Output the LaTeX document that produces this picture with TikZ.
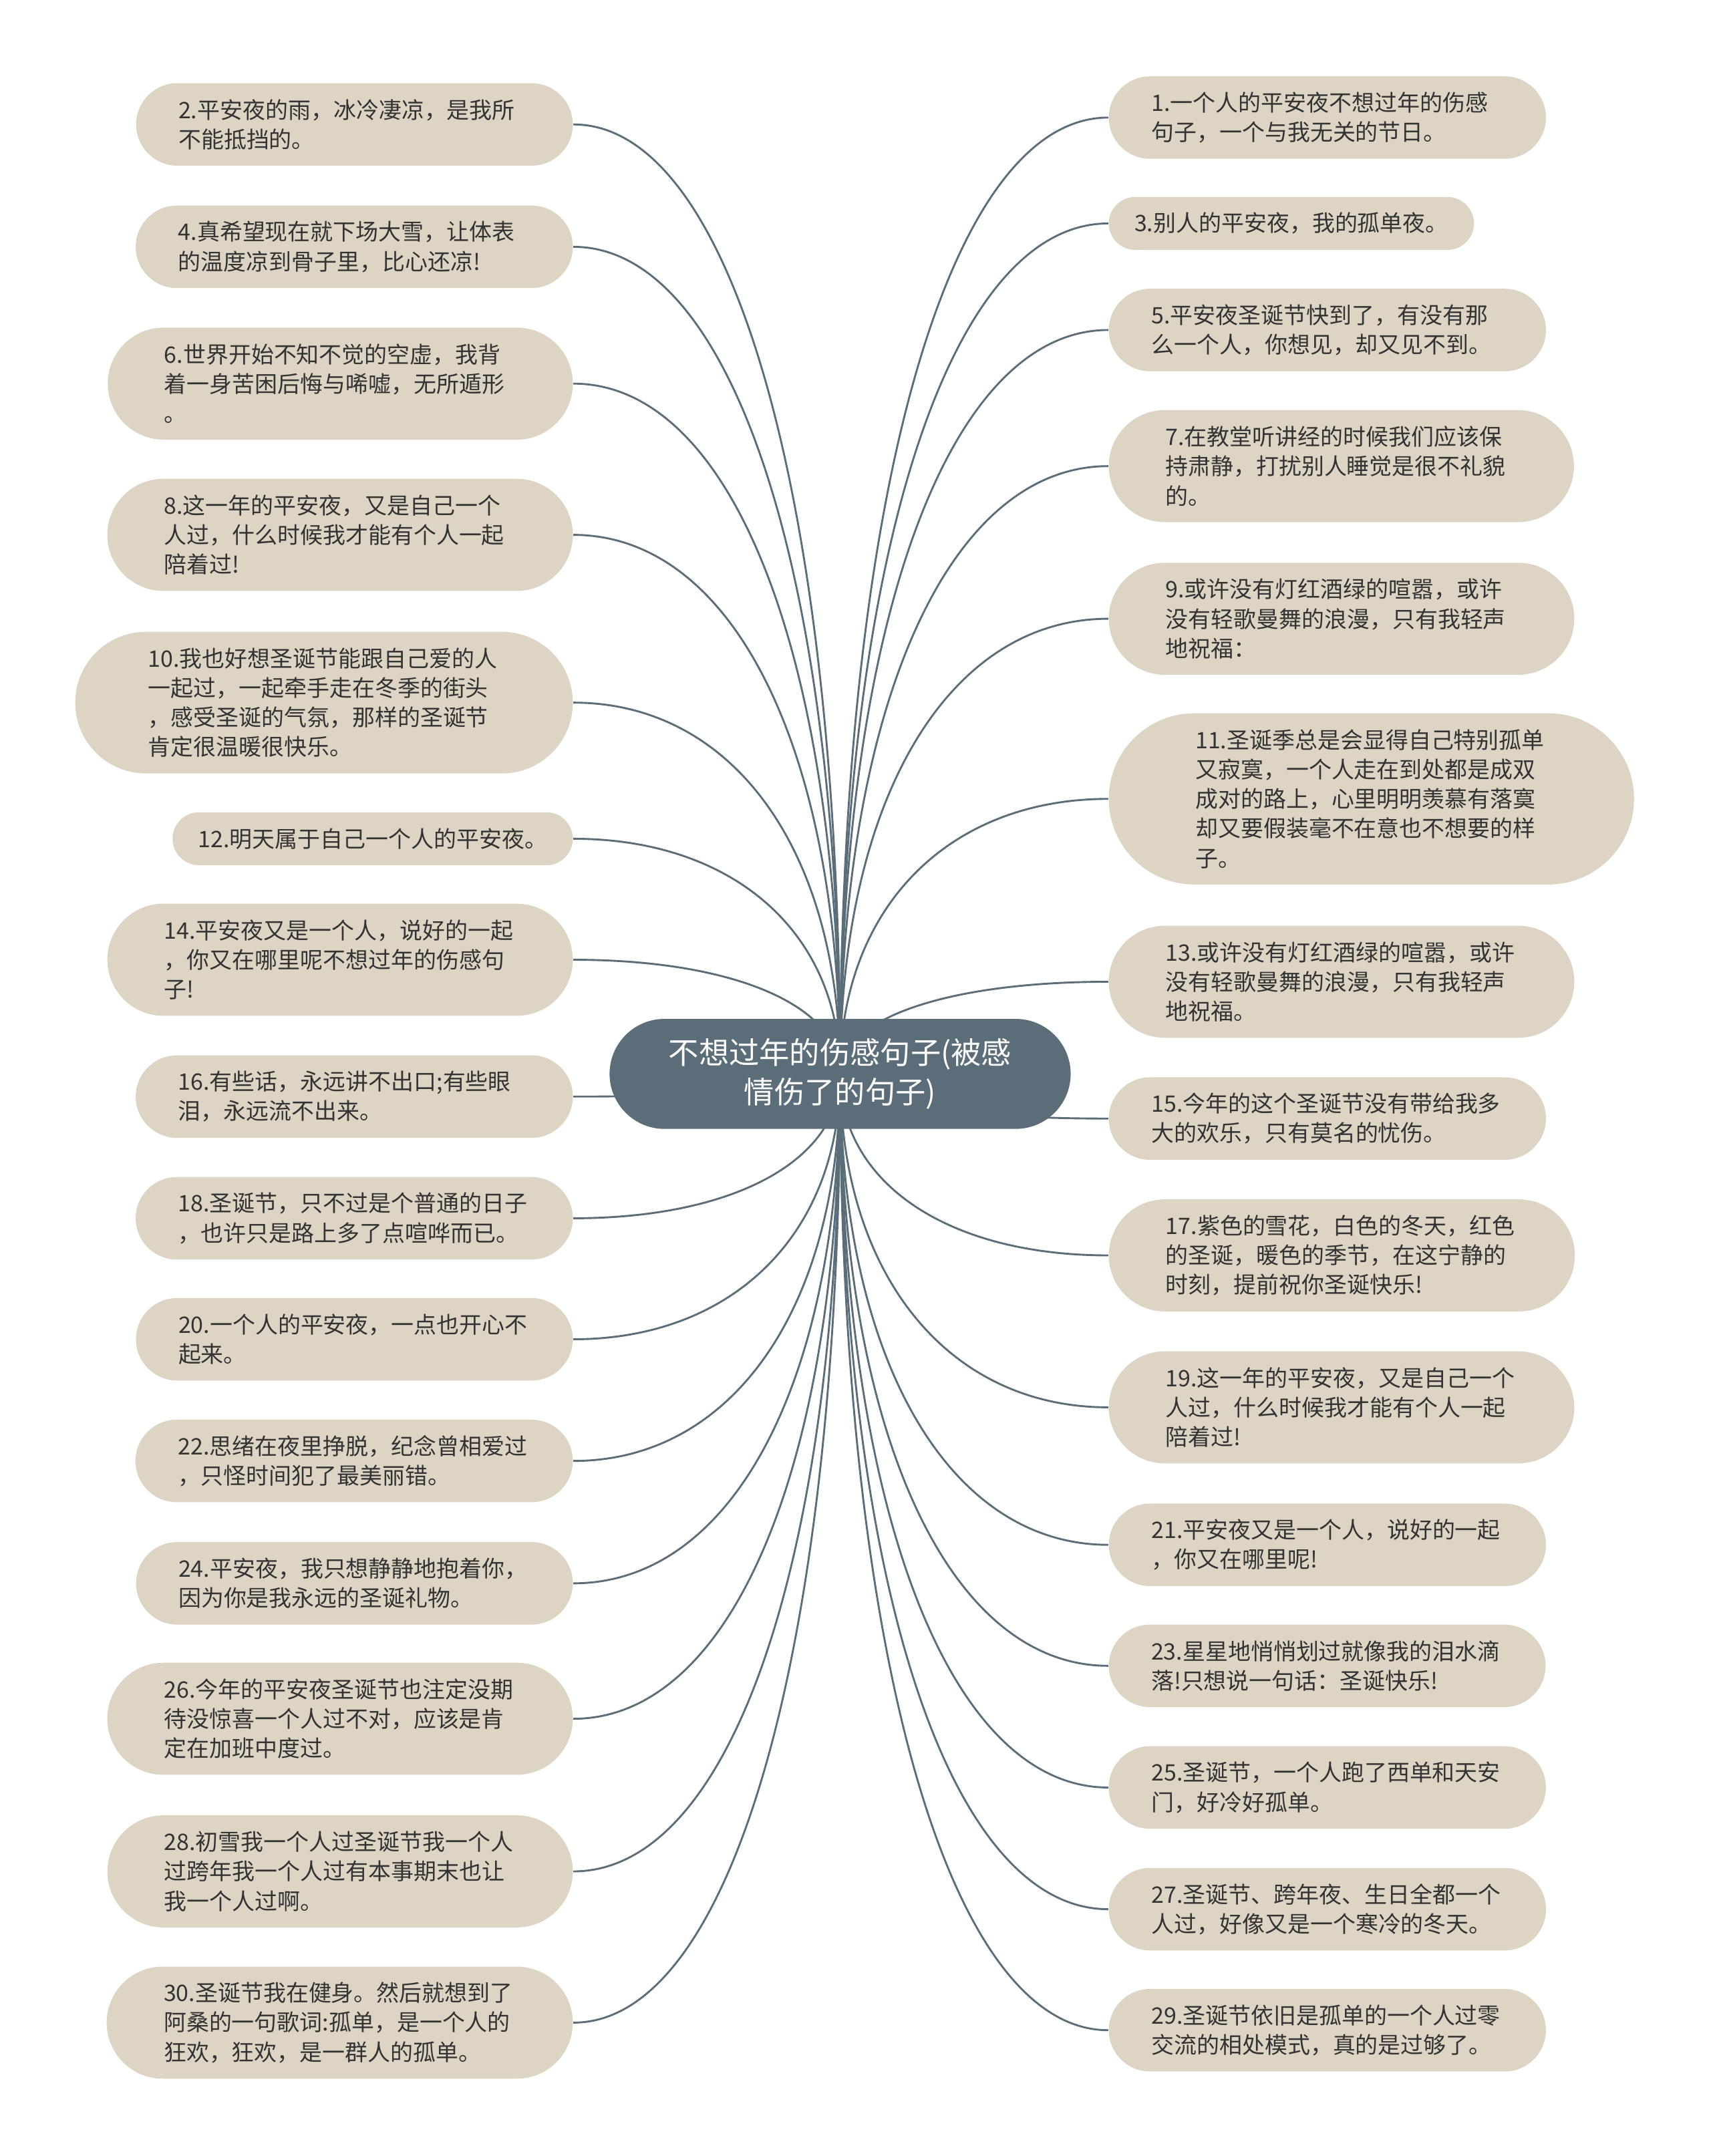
\documentclass[tikz,border=0pt]{standalone}
\usepackage{fontspec}
\newfontfamily\cjk{Noto Sans CJK SC}
\usetikzlibrary{shapes.misc,calc,backgrounds}
\definecolor{leafbg}{HTML}{DED4C4}
\definecolor{slate}{HTML}{5B6D79}
\definecolor{inktext}{HTML}{333333}
\tikzset{
  leaf/.style={rounded rectangle, fill=leafbg, text=inktext, align=left, inner ysep=1pt, font=\cjk\fontsize{8.25pt}{10.75pt}\selectfont},
  longleaf/.style={leaf, text width=128pt},
  rows/.style={minimum height=8.5pt+#1*10.75pt, inner xsep={(#1==1)*8.5pt+(#1==2)*12.25pt+(#1==3)*14.5pt+(#1==4)*17pt+(#1==5)*18.5pt}},
  root/.style={rounded rectangle, fill=slate, text=white, align=center, inner xsep=16.7pt, minimum height=40pt, font=\cjk\fontsize{11pt}{14.5pt}\selectfont},
  link/.style={draw=slate, line width=0.7pt}
}
\begin{document}
\begin{tikzpicture}[x=0.5pt, y=-0.5pt]
        \useasboundingbox (0,0) rectangle (1244,1568);
        \node[root] (c) at (611,781) {不想过年的伤感句子(被感\\情伤了的句子)};

        \node[longleaf, rows=2, anchor=east] (l2) at (417,90.5) {2.平安夜的雨，冰冷凄凉，是我所\\不能抵挡的。};
        \node[longleaf, rows=2, anchor=east] (l4) at (417,179.5) {4.真希望现在就下场大雪，让体表\\的温度凉到骨子里，比心还凉!};
        \node[longleaf, rows=3, anchor=east] (l6) at (417,279) {6.世界开始不知不觉的空虚，我背\\着一身苦困后悔与唏嘘，无所遁形\\。};
        \node[longleaf, rows=3, anchor=east] (l8) at (417,389) {8.这一年的平安夜，又是自己一个\\人过，什么时候我才能有个人一起\\陪着过!};
        \node[longleaf, rows=4, anchor=east] (l10) at (417,511) {10.我也好想圣诞节能跟自己爱的人\\一起过，一起牵手走在冬季的街头\\，感受圣诞的气氛，那样的圣诞节\\肯定很温暖很快乐。};
        \node[leaf, rows=1, anchor=east] (l12) at (417,610) {12.明天属于自己一个人的平安夜。};
        \node[longleaf, rows=3, anchor=east] (l14) at (417,698) {14.平安夜又是一个人，说好的一起\\，你又在哪里呢不想过年的伤感句\\子!};
        \node[longleaf, rows=2, anchor=east] (l16) at (417,797.5) {16.有些话，永远讲不出口;有些眼\\泪，永远流不出来。};
        \node[longleaf, rows=2, anchor=east] (l18) at (417,886) {18.圣诞节，只不过是个普通的日子\\，也许只是路上多了点喧哗而已。};
        \node[longleaf, rows=2, anchor=east] (l20) at (417,974) {20.一个人的平安夜，一点也开心不\\起来。};
        \node[longleaf, rows=2, anchor=east] (l22) at (417,1062.5) {22.思绪在夜里挣脱，纪念曾相爱过\\，只怪时间犯了最美丽错。};
        \node[longleaf, rows=2, anchor=east] (l24) at (417,1151.5) {24.平安夜，我只想静静地抱着你，\\因为你是我永远的圣诞礼物。};
        \node[longleaf, rows=3, anchor=east] (l26) at (417,1250) {26.今年的平安夜圣诞节也注定没期\\待没惊喜一个人过不对，应该是肯\\定在加班中度过。};
        \node[longleaf, rows=3, anchor=east] (l28) at (417,1361) {28.初雪我一个人过圣诞节我一个人\\过跨年我一个人过有本事期末也让\\我一个人过啊。};
        \node[longleaf, rows=3, anchor=east] (l30) at (417,1471) {30.圣诞节我在健身。然后就想到了\\阿桑的一句歌词:孤单，是一个人的\\狂欢，狂欢，是一群人的孤单。};

        \node[longleaf, rows=2, anchor=west] (r1) at (806,85.5) {1.一个人的平安夜不想过年的伤感\\句子，一个与我无关的节日。};
        \node[leaf, rows=1, anchor=west] (r3) at (806,162.5) {3.别人的平安夜，我的孤单夜。};
        \node[longleaf, rows=2, anchor=west] (r5) at (806,240) {5.平安夜圣诞节快到了，有没有那\\么一个人，你想见，却又见不到。};
        \node[longleaf, rows=3, anchor=west] (r7) at (806,339) {7.在教堂听讲经的时候我们应该保\\持肃静，打扰别人睡觉是很不礼貌\\的。};
        \node[longleaf, rows=3, anchor=west] (r9) at (806,450) {9.或许没有灯红酒绿的喧嚣，或许\\没有轻歌曼舞的浪漫，只有我轻声\\地祝福：};
        \node[longleaf, rows=5, anchor=west] (r11) at (806,581) {11.圣诞季总是会显得自己特别孤单\\又寂寞，一个人走在到处都是成双\\成对的路上，心里明明羡慕有落寞\\却又要假装毫不在意也不想要的样\\子。};
        \node[longleaf, rows=3, anchor=west] (r13) at (806,714) {13.或许没有灯红酒绿的喧嚣，或许\\没有轻歌曼舞的浪漫，只有我轻声\\地祝福。};
        \node[longleaf, rows=2, anchor=west] (r15) at (806,813.5) {15.今年的这个圣诞节没有带给我多\\大的欢乐，只有莫名的忧伤。};
        \node[longleaf, rows=3, anchor=west] (r17) at (806,913) {17.紫色的雪花，白色的冬天，红色\\的圣诞，暖色的季节，在这宁静的\\时刻，提前祝你圣诞快乐!};
        \node[longleaf, rows=3, anchor=west] (r19) at (806,1023.5) {19.这一年的平安夜，又是自己一个\\人过，什么时候我才能有个人一起\\陪着过!};
        \node[longleaf, rows=2, anchor=west] (r21) at (806,1123.5) {21.平安夜又是一个人，说好的一起\\，你又在哪里呢!};
        \node[longleaf, rows=2, anchor=west] (r23) at (806,1211.5) {23.星星地悄悄划过就像我的泪水滴\\落!只想说一句话：圣诞快乐!};
        \node[longleaf, rows=2, anchor=west] (r25) at (806,1300) {25.圣诞节，一个人跑了西单和天安\\门，好冷好孤单。};
        \node[longleaf, rows=2, anchor=west] (r27) at (806,1388.5) {27.圣诞节、跨年夜、生日全都一个\\人过，好像又是一个寒冷的冬天。};
        \node[longleaf, rows=2, anchor=west] (r29) at (806,1476.5) {29.圣诞节依旧是孤单的一个人过零\\交流的相处模式，真的是过够了。};

        \begin{scope}[on background layer]
        \fill[white] (0,0) rectangle (1244,1568);
        \foreach \n in {l2,l4,l6,l8,l10,l12,l14,l16,l18,l20,l22,l24,l26,l28,l30}
            \draw[link] (c.center) .. controls ($(c.center)!0.6!(c.center |- \n.east)$) and ($(\n.east)!0.6!(\n.east -| c.center)$) .. (\n.east);
        \foreach \n in {r1,r3,r5,r7,r9,r11,r13,r15,r17,r19,r21,r23,r25,r27,r29}
            \draw[link] (c.center) .. controls ($(c.center)!0.6!(c.center |- \n.west)$) and ($(\n.west)!0.6!(\n.west -| c.center)$) .. (\n.west);
        \end{scope}
    \end{tikzpicture}
\end{document}
